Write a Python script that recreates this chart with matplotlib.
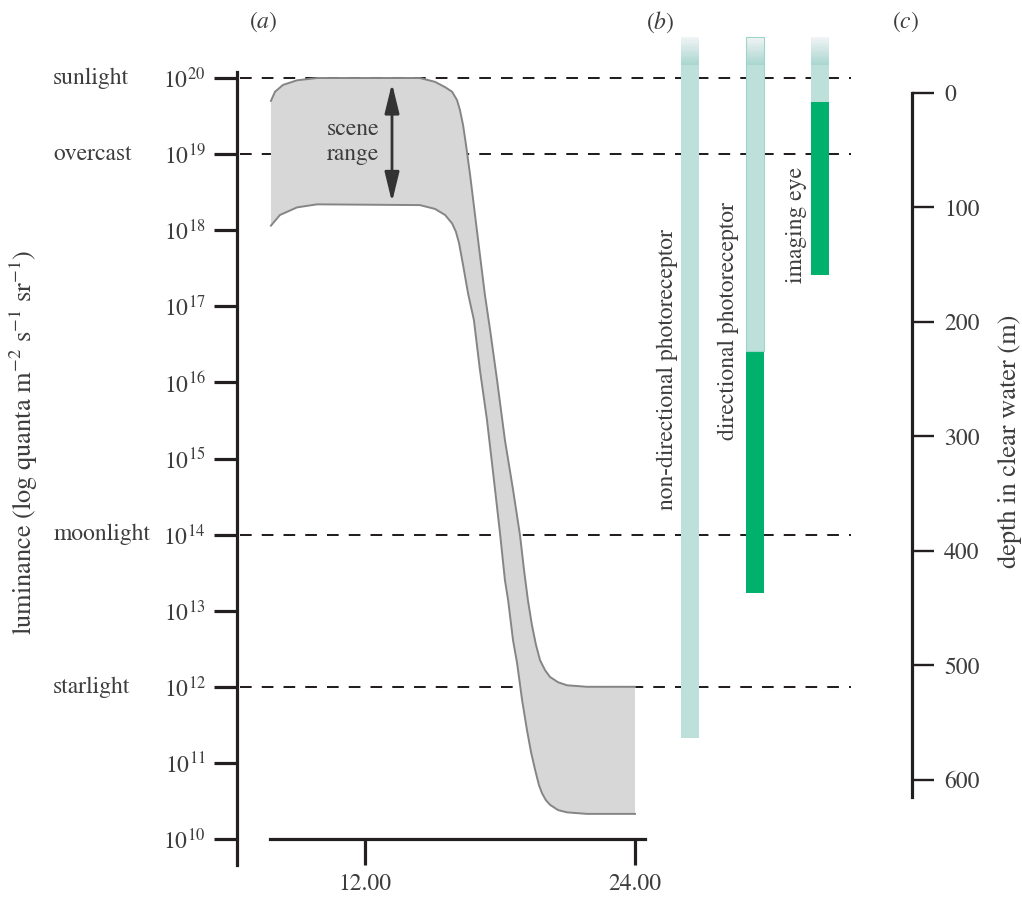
import numpy as np
import matplotlib
matplotlib.use("Agg")
import matplotlib.pyplot as plt
from matplotlib import transforms
from matplotlib.ticker import NullLocator

plt.rcParams["font.family"] = "STIXGeneral"
plt.rcParams["mathtext.fontset"] = "stix"

# ---- (a) luminance of the scene over the day (hours, log10 quanta) ----
upper_t = [7.82, 8.00, 8.36, 8.98, 9.87, 14.44, 15.11, 15.56, 15.87, 16.09, 16.22,
           16.36, 16.49, 16.67, 16.89, 17.11, 17.33, 17.56, 17.87, 18.22, 18.58,
           18.89, 19.07, 19.24, 19.42, 19.60, 19.78, 20.00, 20.22, 20.58, 20.98,
           21.87, 24.00]
upper_log = [19.70, 19.82, 19.91, 19.97, 20.00, 20.00, 19.95, 19.88, 19.82, 19.71,
             19.58, 19.38, 19.12, 18.73, 18.20, 17.67, 17.15, 16.69, 16.03, 15.24,
             14.59, 13.99, 13.53, 13.14, 12.81, 12.55, 12.35, 12.22, 12.13, 12.06,
             12.02, 12.00, 12.00]
lower_t = [7.82, 8.22, 8.98, 9.87, 14.44, 15.11, 15.56, 15.87, 16.04, 16.18, 16.36,
           16.58, 16.84, 17.11, 17.42, 17.73, 18.00, 18.22, 18.36, 18.58, 18.76,
           18.98, 19.20, 19.38, 19.56, 19.73, 19.87, 20.04, 20.22, 20.58, 20.98,
           21.87, 24.00]
lower_log = [18.06, 18.20, 18.30, 18.34, 18.33, 18.28, 18.20, 18.09, 17.98, 17.83,
             17.54, 17.17, 16.82, 16.16, 15.51, 14.72, 14.02, 13.40, 13.14, 12.61,
             12.31, 11.83, 11.43, 11.14, 10.91, 10.71, 10.60, 10.51, 10.45, 10.38,
             10.35, 10.33, 10.33]
arrow_t = 13.2
arrow_span = (18.37, 19.93)

state_names = ["sunlight", "overcast", "moonlight", "starlight"]
state_levels = [20, 19, 14, 12]
lum_exponents = list(range(10, 21))
hour_ticks = [12, 24]
hour_labels = ["12.00", "24.00"]

# ---- (b) working ranges (log10 quanta) ----
bar_names = ["non-directional photoreceptor", "directional photoreceptor", "imaging eye"]
bar_top = [20.54, 20.54, 20.54]
fade_end = [20.17, 20.17, 20.17]
light_bottom = [11.33, 16.41, 19.68]
dark_top = [np.nan, 16.41, 19.68]
dark_bottom = [np.nan, 13.23, 17.41]

# ---- (c) depth scale ----
depth_ticks = [0, 100, 200, 300, 400, 500, 600]

ink = "#231f20"
txt = "#3d3d3d"
light = "#bde1da"
green = "#00b16e"

W, H = 1022, 897
fig = plt.figure(figsize=(W / 100, H / 100), dpi=100)


def box(l, t, r, b):
    return [l / W, 1 - b / H, (r - l) / W, (b - t) / H]


ylo, yhi = 10 ** 9.5926, 10 ** 20.631

# panel a
ax = fig.add_axes(box(237, 30, 650, 870))
ax.set_yscale("log")
ax.set_ylim(ylo, yhi)
ax.set_xlim(6.311, 24.667)
for s in ["top", "right"]:
    ax.spines[s].set_visible(False)
ax.spines["left"].set_bounds(10 ** 9.658, 10 ** 20.079)
ax.spines["bottom"].set_position(("data", 1e10))
ax.spines["bottom"].set_bounds(7.78, 24.44)
for s in ["left", "bottom"]:
    ax.spines[s].set_linewidth(2.3)
    ax.spines[s].set_color(ink)
ax.set_yticks([10.0 ** k for k in lum_exponents])
ax.set_yticklabels([r"$\mathregular{10^{%d}}$" % k for k in lum_exponents])
ax.yaxis.set_minor_locator(NullLocator())
ax.set_xticks(hour_ticks)
ax.set_xticklabels(hour_labels)
ax.tick_params(axis="y", length=16.6, width=2.3, color=ink, labelsize=17,
               labelcolor=txt, pad=6)
ax.tick_params(axis="x", length=18.7, width=2.3, color=ink, labelsize=17,
               labelcolor=txt, pad=6)

for lv in state_levels:
    ax.axhline(10.0 ** lv, xmin=3 / 413, xmax=(851 - 237) / 413, color=ink,
               lw=1.45, ls=(0, (5.8, 5.0)), clip_on=False, zorder=1)

ut = np.array(upper_t)
lt = np.array(lower_t)
ax.fill(np.r_[ut, lt[::-1]], 10.0 ** np.r_[upper_log, lower_log[::-1]],
        color="#d6d7d6", lw=0, zorder=2)
ax.plot(ut, 10.0 ** np.array(upper_log), color="#858585", lw=1.4, zorder=3)
ax.plot(lt, 10.0 ** np.array(lower_log), color="#858585", lw=1.4, zorder=3)

ax.annotate("", xy=(arrow_t, 10 ** arrow_span[1]), xytext=(arrow_t, 10 ** arrow_span[0]),
            arrowprops=dict(arrowstyle="<|-|>,head_length=0.9,head_width=0.22",
                            mutation_scale=20, color="#333333", lw=2.0,
                            shrinkA=0, shrinkB=0), zorder=4)
ax.text(11.47, 10 ** 19.16, "scene\nrange", ha="center", va="center",
        fontsize=17, color=txt, zorder=4)

blend = transforms.blended_transform_factory(fig.transFigure, ax.transData)
for name, lv, px in zip(state_names, state_levels, [53, 53, 54, 53]):
    ax.text(px / W, 10.0 ** lv, name, transform=blend, ha="left", va="center",
            fontsize=17, color=txt)

fig.text(24 / W, 1 - 442 / H, r"luminance (log quanta m$^{-2}$ s$^{-1}$ sr$^{-1}$)",
         rotation=90, ha="center", va="center", fontsize=19, color=txt)

# panel b
axb = fig.add_axes(box(655, 30, 860, 870))
axb.set_yscale("log")
axb.set_ylim(ylo, yhi)
axb.set_xlim(-0.538, 2.615)
axb.axis("off")
bw = 0.277
for i in range(3):
    lo, hi = 10 ** light_bottom[i], 10 ** fade_end[i]
    axb.bar(i, hi - lo, bottom=lo, width=bw, color=light, lw=0, zorder=2)
    if not np.isnan(dark_top[i]):
        lo2, hi2 = 10 ** dark_bottom[i], 10 ** dark_top[i]
        axb.bar(i, hi2 - lo2, bottom=lo2, width=bw, color=green, lw=0, zorder=3)
    steps = np.linspace(fade_end[i], bar_top[i], 25)
    c0 = np.array([0.66, 0.835, 0.81])
    c1 = np.array([0.95, 0.96, 0.965])
    for k in range(24):
        f = (k + 0.5) / 24
        col = c0 * (1 - f) + c1 * f
        b0, b1 = 10 ** steps[k], 10 ** steps[k + 1]
        axb.bar(i, b1 - b0, bottom=b0, width=bw, color=col, lw=0, zorder=2)
axb.bar(1, 10 ** bar_top[1] - 10 ** light_bottom[1], bottom=10 ** light_bottom[1],
        width=bw, fill=False, edgecolor="#9fd5c8", lw=0.8, zorder=4)

label_pos = [(-0.354, 14.32), (0.585, 15.24), (1.63, 17.31)]
for name, (xp, yp) in zip(bar_names, label_pos):
    axb.text(xp, 10 ** yp, name, rotation=90, ha="center", va="bottom",
             fontsize=17, color=txt)

# panel c
axc = fig.add_axes(box(880, 30, 912, 870))
axc.set_ylim(678.6, -55.0)
for s in ["left", "top", "bottom"]:
    axc.spines[s].set_visible(False)
axc.spines["right"].set_bounds(0, 615)
axc.spines["right"].set_linewidth(2.3)
axc.spines["right"].set_color(ink)
axc.set_xticks([])
axc.yaxis.tick_right()
axc.set_yticks(depth_ticks)
axc.tick_params(axis="y", length=16, width=1.7, color=ink, labelsize=17,
                labelcolor=txt, pad=7)
axc.patch.set_visible(False)
fig.text(1010 / W, 1 - 441 / H, "depth in clear water (m)", rotation=90,
         ha="center", va="center", fontsize=19, color=txt)

for lab, px in [("($a$)", 263), ("($b$)", 660), ("($c$)", 906)]:
    fig.text(px / W, 1 - 22 / H, lab, ha="center", va="center", fontsize=17, color=txt)

fig.savefig("out.png", dpi=100)
